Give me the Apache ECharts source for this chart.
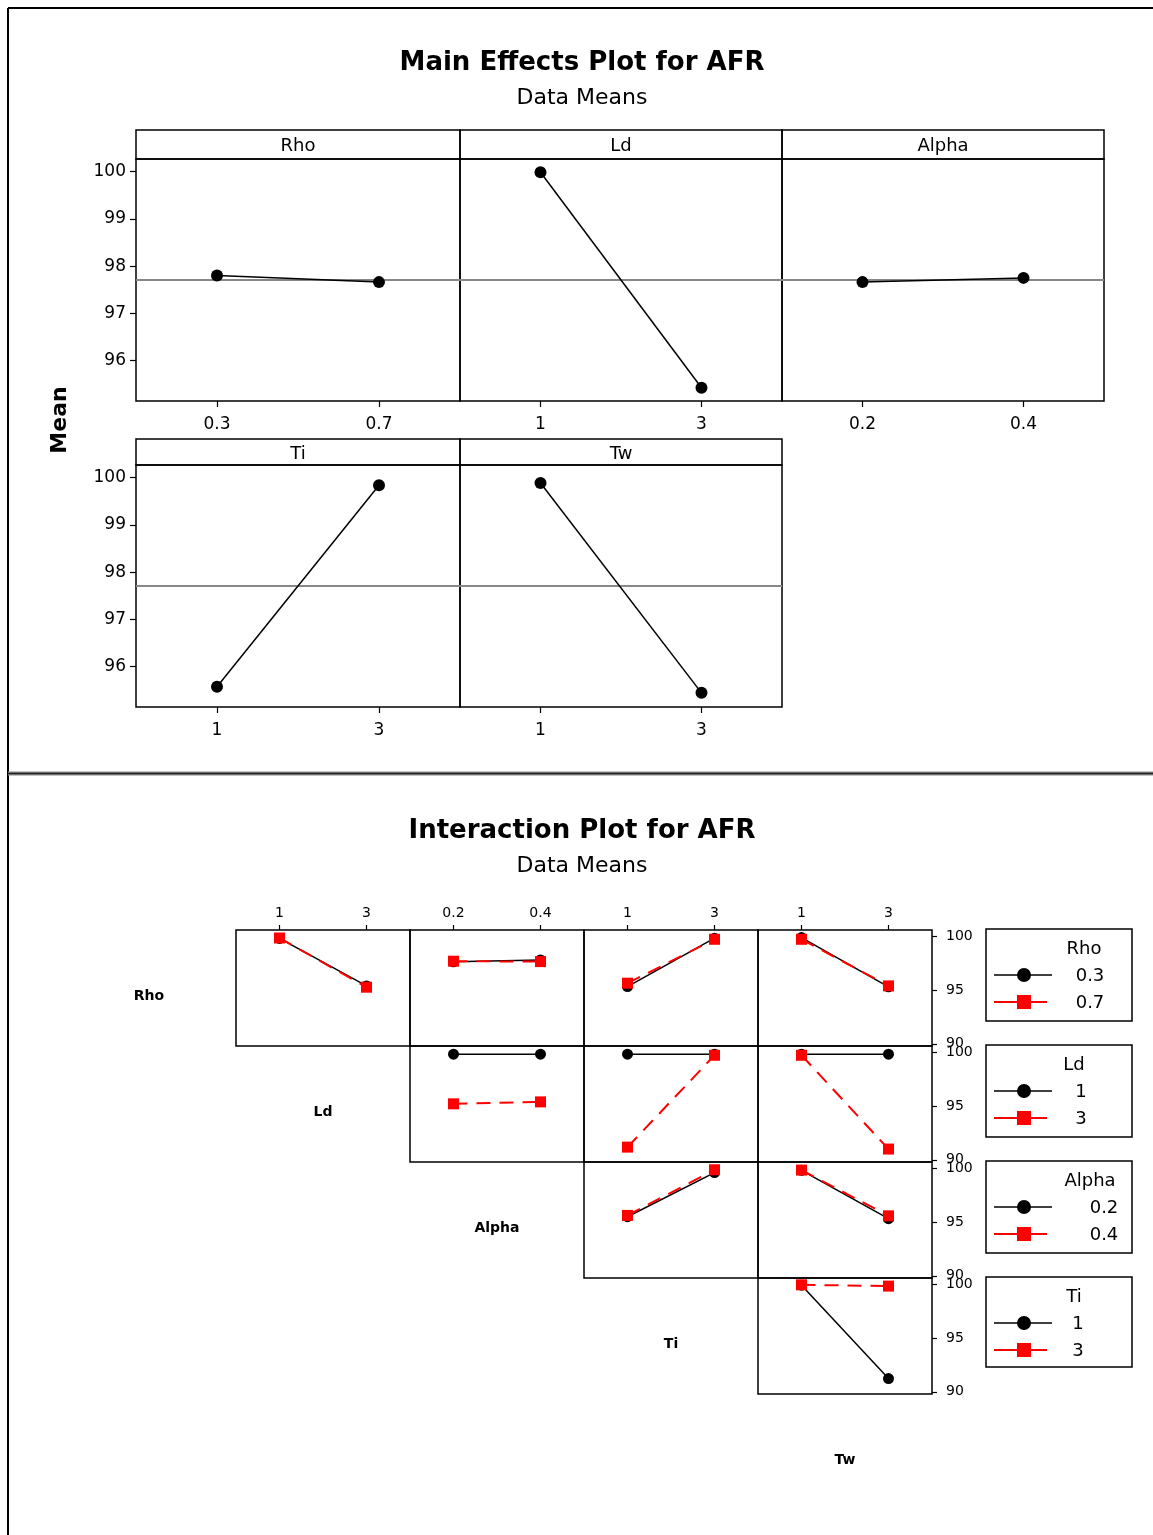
<!DOCTYPE html>
<html><head><meta charset="utf-8">
<script src="https://cdn.jsdelivr.net/npm/echarts@6/dist/echarts.min.js"></script>
<style>html,body{margin:0;padding:0;background:#fff}#c{width:1153px;height:1535px}</style>
</head><body><div id="c"></div>
<script>
// ---------------- data ----------------
const factorNames = ['Rho', 'Ld', 'Alpha', 'Ti', 'Tw'];
const rhoLevels = ['0.3', '0.7'];
const ldLevels = ['1', '3'];
const alphaLevels = ['0.2', '0.4'];
const tiLevels = ['1', '3'];
const twLevels = ['1', '3'];

// Main effects (data means)
const rhoMeans = [97.80, 97.66];
const ldMeans = [99.99, 95.42];
const alphaMeans = [97.66, 97.75];
const tiMeans = [95.57, 99.84];
const twMeans = [99.89, 95.44];
const grandMean = 97.72;
const mainYTicks = [96, 97, 98, 99, 100];

// Interaction means: [trace level 1 over x levels, trace level 2 over x levels]
const rhoByLd = [[99.77, 95.37], [99.81, 95.25]];
const rhoByAlpha = [[97.60, 97.78], [97.66, 97.62]];
const rhoByTi = [[95.31, 99.79], [95.62, 99.69]];
const rhoByTw = [[99.85, 95.28], [99.69, 95.37]];
const ldByAlpha = [[99.79, 99.79], [95.19, 95.37]];
const ldByTi = [[99.79, 99.79], [91.18, 99.69]];
const ldByTw = [[99.79, 99.79], [99.69, 91.00]];
const alphaByTi = [[95.48, 99.57], [95.60, 99.83]];
const alphaByTw = [[99.78, 95.30], [99.80, 95.56]];
const tiByTw = [[99.88, 91.23], [99.92, 99.80]];
const interYTicks = [90, 95, 100];

// ---------------- assembly ----------------
const FONT = 'DejaVu Sans';
const levelsList = [rhoLevels, ldLevels, alphaLevels, tiLevels, twLevels];
const mainMeans = [rhoMeans, ldMeans, alphaMeans, tiMeans, twMeans];
const interMeans = {
  '0-1': rhoByLd, '0-2': rhoByAlpha, '0-3': rhoByTi, '0-4': rhoByTw,
  '1-2': ldByAlpha, '1-3': ldByTi, '1-4': ldByTw,
  '2-3': alphaByTi, '2-4': alphaByTw,
  '3-4': tiByTw
};

const grids = [], xAxes = [], yAxes = [], series = [], graphics = [];

function txt(text, x, y, size, opts) {
  opts = opts || {};
  return {
    type: 'text', x: x, y: y, rotation: opts.rotation || 0, z: 10,
    style: {
      text: text, fill: '#000',
      font: (opts.bold ? 'bold ' : '') + size + 'px "' + FONT + '"',
      textAlign: opts.align || 'center', align: opts.align || 'center',
      textVerticalAlign: 'middle', verticalAlign: 'middle'
    }
  };
}
function line(x1, y1, x2, y2, color, w) {
  return { type: 'line', z: 10, shape: { x1: x1, y1: y1, x2: x2, y2: y2 }, style: { stroke: color, lineWidth: w } };
}
function rect(x, y, w, h, stroke, lw, fill) {
  return { type: 'rect', z: 10, shape: { x: x, y: y, width: w, height: h }, style: { stroke: stroke, lineWidth: lw, fill: fill || 'none' } };
}

// Frame
graphics.push(line(8, 8, 1153, 8, '#000', 2));
graphics.push(line(8, 8, 8, 1535, '#000', 2));
graphics.push(line(8, 773.5, 1153, 773.5, '#888', 4));
graphics.push(line(8, 773.5, 1153, 773.5, '#222', 1.5));

// Titles
graphics.push(txt('Main Effects Plot for AFR', 582, 63, 26, { bold: true }));
graphics.push(txt('Data Means', 582, 98, 22));
graphics.push(txt('Interaction Plot for AFR', 582, 831, 26, { bold: true }));
graphics.push(txt('Data Means', 582, 866, 22));
graphics.push(txt('Mean', 60, 420, 22, { bold: true, rotation: Math.PI / 2 }));

// ---- Main effects panels ----
const mainPanels = [
  { left: 136, top: 159, width: 324, stripTop: 130 },
  { left: 460, top: 159, width: 322, stripTop: 130 },
  { left: 782, top: 159, width: 322, stripTop: 130 },
  { left: 136, top: 465, width: 324, stripTop: 439 },
  { left: 460, top: 465, width: 322, stripTop: 439 }
];
const mainH = 242;
mainPanels.forEach(function (p, k) {
  const gi = grids.length;
  const leftmost = (p.left === 136);
  grids.push({ left: p.left, top: p.top, width: p.width, height: mainH, show: true,
    borderColor: '#000', borderWidth: 1.5, backgroundColor: 'transparent' });
  xAxes.push({ type: 'category', gridIndex: gi, data: levelsList[k], boundaryGap: true,
    axisLine: { show: false },
    axisTick: { show: true, alignWithLabel: true, length: 6, lineStyle: { color: '#000', width: 1.2 } },
    axisLabel: { fontSize: 17, color: '#000', margin: 15, fontFamily: FONT },
    splitLine: { show: false } });
  yAxes.push({ type: 'value', gridIndex: gi, min: 95.14, max: 100.27,
    axisLine: { show: false },
    axisTick: { show: leftmost, customValues: mainYTicks, length: 6, lineStyle: { color: '#000', width: 1.2 } },
    axisLabel: { show: leftmost, customValues: mainYTicks, fontSize: 17, color: '#000', margin: 10, fontFamily: FONT },
    splitLine: { show: false } });
  series.push({ type: 'line', xAxisIndex: gi, yAxisIndex: gi, data: mainMeans[k],
    symbol: 'circle', symbolSize: 12, itemStyle: { color: '#000' },
    lineStyle: { color: '#000', width: 1.5 }, z: 5,
    markLine: { silent: true, symbol: 'none', label: { show: false },
      lineStyle: { color: '#888', width: 2, type: 'solid' },
      data: [{ yAxis: grandMean }] } });
  // strip header
  graphics.push(rect(p.left, p.stripTop, p.width, p.top - p.stripTop, '#000', 1.5));
  graphics.push(txt(factorNames[k], p.left + p.width / 2, (p.stripTop + p.top) / 2 + 2, 18));
});

// ---- Interaction panels ----
const cellW = 174, cellH = 116, x0 = 62, y0 = 930;
for (let i = 0; i < 5; i++) {
  graphics.push(txt(factorNames[i], x0 + cellW * i + cellW / 2, y0 + cellH * i + cellH / 2 + 8, 14, { bold: true }));
}
for (let i = 0; i < 4; i++) {
  for (let j = i + 1; j < 5; j++) {
    const gi = grids.length;
    grids.push({ left: x0 + cellW * j, top: y0 + cellH * i, width: cellW, height: cellH, show: true,
      borderColor: '#000', borderWidth: 1.5, backgroundColor: 'transparent' });
    xAxes.push({ type: 'category', gridIndex: gi, data: levelsList[j], boundaryGap: true, position: 'top',
      axisLine: { show: false },
      axisTick: { show: i === 0, alignWithLabel: true, length: 5, lineStyle: { color: '#000', width: 1.2 } },
      axisLabel: { show: i === 0, fontSize: 14, color: '#000', margin: 10, fontFamily: FONT },
      splitLine: { show: false } });
    yAxes.push({ type: 'value', gridIndex: gi, min: 89.8, max: 100.55, position: 'right',
      axisLine: { show: false },
      axisTick: { show: j === 4, customValues: interYTicks, length: 5, lineStyle: { color: '#000', width: 1.2 } },
      axisLabel: { show: j === 4, customValues: interYTicks, fontSize: 14, color: '#000', margin: 14, fontFamily: FONT },
      splitLine: { show: false } });
    const m = interMeans[i + '-' + j];
    series.push({ type: 'line', xAxisIndex: gi, yAxisIndex: gi, data: m[0], name: levelsList[i][0],
      symbol: 'circle', symbolSize: 11, itemStyle: { color: '#000' },
      lineStyle: { color: '#000', width: 1.5 }, z: 5 });
    series.push({ type: 'line', xAxisIndex: gi, yAxisIndex: gi, data: m[1], name: levelsList[i][1],
      symbol: 'rect', symbolSize: 11, itemStyle: { color: '#ff0000' },
      lineStyle: { color: '#ff0000', width: 2, type: [14, 9] }, z: 6 });
  }
}

// ---- Legends (one per trace factor) ----
const legTitleX = [1084, 1074, 1090, 1074];
const legLabelX = [1090, 1081, 1104, 1078];
for (let i = 0; i < 4; i++) {
  const top = 929 + cellH * i;
  graphics.push(rect(986, top, 146, i === 3 ? 90 : 92, '#000', 1.5, '#fff'));
  graphics.push(txt(factorNames[i], legTitleX[i], top + 20, 18));
  const yA = top + 46, yB = top + 73;
  graphics.push(line(994, yA, 1052, yA, '#000', 1.5));
  graphics.push({ type: 'circle', z: 11, shape: { cx: 1024, cy: yA, r: 7 }, style: { fill: '#000' } });
  graphics.push(txt(levelsList[i][0], legLabelX[i], yA + 1, 18));
  graphics.push(line(994, yB, 1047, yB, '#ff0000', 2));
  graphics.push({ type: 'rect', z: 11, shape: { x: 1017, y: yB - 7, width: 14, height: 14 }, style: { fill: '#ff0000' } });
  graphics.push(txt(levelsList[i][1], legLabelX[i], yB + 1, 18));
}

const chart = echarts.init(document.getElementById('c'), null, { renderer: 'canvas' });
chart.setOption({
  animation: false,
  backgroundColor: '#fff',
  textStyle: { fontFamily: FONT },
  grid: grids, xAxis: xAxes, yAxis: yAxes, series: series,
  graphic: { elements: graphics }
});
</script></body></html>
